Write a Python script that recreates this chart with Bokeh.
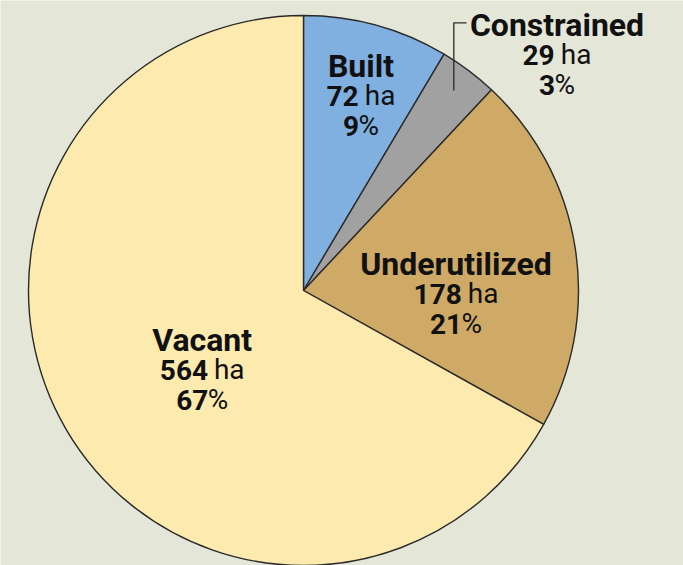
import math
from bokeh.plotting import figure
from bokeh.models import Range1d, ColumnDataSource
from bokeh.embed import file_html
from bokeh.resources import INLINE
from bokeh.core.properties import value

# ---- data ----
categories = ["Built", "Constrained", "Underutilized", "Vacant"]
hectares = [72, 29, 178, 564]
percents = [9, 3, 21, 67]
colors = ["#80b0e0", "#a1a1a1", "#cfaa66", "#fdeaaf"]

# ---- layout (reference pixel coords, y down) ----
BG = "#e4e6d8"
CX, CY, R = 303, 290, 275
FONT = "Roboto"
TITLE_SIZE = 32
NUM_SIZE = 28
PCT_SIZE = 28
LINE_GAP = 30
BASE_SHIFT = -10
TXT = "#111111"
# label anchor: (center x, first baseline y)
anchors = [(360.5, 75), (556.5, 34), (455.5, 273), (201.7, 349)]

W, H = 683, 565
p = figure(width=W, height=H, output_backend="svg", toolbar_location=None,
           x_range=Range1d(0, W), y_range=Range1d(-H, 0),
           min_border=0)
p.background_fill_color = BG
p.border_fill_color = BG
p.outline_line_color = None
p.axis.visible = False
p.grid.visible = False

total = sum(hectares)
starts, ends = [], []
cum = 0
for v in hectares:
    starts.append(math.pi / 2 - 2 * math.pi * cum / total)
    cum += v
    ends.append(math.pi / 2 - 2 * math.pi * cum / total)

src = ColumnDataSource(dict(start=starts, end=ends, color=colors))
p.wedge(x=CX, y=-CY, radius=R, start_angle="start", end_angle="end",
        direction="clock", fill_color="color", line_color="#2a2a2a",
        line_width=1.4, source=src)

# leader line for Constrained
p.line(x=[453.3, 453.3, 466], y=[-90, -22.3, -22.3], line_color="#2a2a2a",
       line_width=1.3)


def em_width(s):
    w = 0.0
    for ch in s:
        if ch.isdigit():
            w += 0.5615
        elif ch == "h":
            w += 0.551
        elif ch == "a":
            w += 0.544
        elif ch == "%":
            w += 0.733
        elif ch == " ":
            w += 0.248
    return w


tx, ty, tt, ts, tw, ta = [], [], [], [], [], []


def add(x, y, t, size, weight, align):
    tx.append(x); ty.append(-(y + BASE_SHIFT)); tt.append(t)
    ts.append(f"{size}px"); tw.append(weight); ta.append(align)


for cat, ha, pc, (ax, ay) in zip(categories, hectares, percents, anchors):
    add(ax, ay, cat, TITLE_SIZE, "bold", "center")
    # line 2: bold number + regular "ha"
    nb = str(ha)
    wb = em_width(nb) * NUM_SIZE
    ws = em_width(" ") * NUM_SIZE
    wr = em_width("ha") * NUM_SIZE
    left = ax - (wb + ws + wr) / 2
    add(left, ay + LINE_GAP, nb, NUM_SIZE, "bold", "left")
    add(left + wb + ws, ay + LINE_GAP, "ha", NUM_SIZE, "normal", "left")
    # line 3: bold number + regular "%"
    pb = str(pc)
    wb = em_width(pb) * PCT_SIZE
    wr = em_width("%") * PCT_SIZE
    left = ax - (wb + wr) / 2
    add(left, ay + 2 * LINE_GAP, pb, PCT_SIZE, "bold", "left")
    add(left + wb, ay + 2 * LINE_GAP, "%", PCT_SIZE, "normal", "left")

tsrc = ColumnDataSource(dict(x=tx, y=ty, t=tt, s=ts, w=tw, a=ta))
p.text(x="x", y="y", text="t", text_font=value(FONT), text_font_size="s",
       text_font_style="w", text_align="a", text_baseline="alphabetic",
       text_color=TXT, source=tsrc)

open("out.html", "w").write(file_html(p, INLINE))
